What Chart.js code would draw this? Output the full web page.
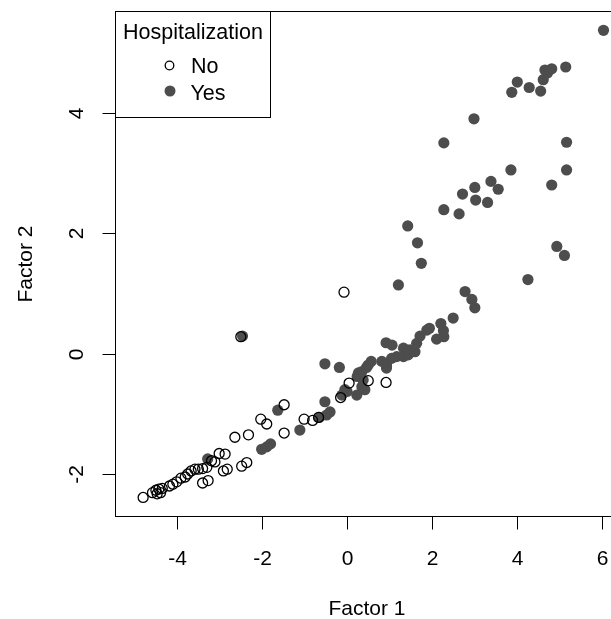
<!DOCTYPE html>
<html>
<head>
<meta charset="utf-8">
<script src="https://cdn.jsdelivr.net/npm/chart.js@4"></script>
<style>
  html, body { margin: 0; padding: 0; background: #fff; overflow: hidden; }
  #plot { display: block; }
</style>
</head>
<body>
<canvas id="plot" width="640" height="619"></canvas>
<script>
// values
const xTicks = [-4, -2, 0, 2, 4, 6];
const yTicks = [-2, 0, 2, 4];
const groups = ["No", "Yes"];

const noFactor1 = [-4.80, -4.58, -4.50, -4.43, -4.39, -4.47, -4.35, -4.18, -4.10, -4.01, -3.91, -3.81, -3.75, -3.67,
  -3.58, -3.50, -3.40, -3.30, -3.19, -3.11, -3.01, -2.87, -3.40, -3.27, -2.91, -2.82, -2.64, -2.32, -2.48,
  -2.36, -2.03, -1.89, -2.50, -0.07, 0.05, 0.50, 0.92, -0.15, -1.48, -1.01, -0.81, -0.67, -1.48];
const noFactor2 = [-2.39, -2.31, -2.27, -2.25, -2.31, -2.33, -2.24, -2.20, -2.17, -2.13, -2.07, -2.05, -2.00, -1.95,
  -1.92, -1.92, -1.91, -1.89, -1.78, -1.80, -1.66, -1.67, -2.15, -2.11, -1.95, -1.92, -1.39, -1.35, -1.87,
  -1.81, -1.09, -1.17, 0.28, 1.02, -0.49, -0.45, -0.48, -0.73, -0.85, -1.09, -1.11, -1.06, -1.32];

const yesFactor1 = [-3.28, -2.01, -1.89, -1.80, -1.63, -2.46, -1.11, -0.65, -0.48, -0.40, -0.52, -0.52, -0.18,
  -0.05, -0.12, 0.00, 0.23, 0.35, 0.38, 0.24, 0.27, 0.35, 0.46, 0.57, 0.50, 0.82, 0.93, 1.05, 1.17, 0.92,
  1.06, 0.93, 1.33, 1.33, 1.44, 1.48, 1.60, 1.64, 1.72, 1.88, 1.94, 2.11, 2.21, 2.27, 2.28, 2.50, 2.78,
  2.94, 3.01, 1.21, 1.75, 1.66, 1.43, 4.26, 4.94, 5.12, 2.28, 2.64, 3.03, 3.31, 2.72, 3.01, 3.39, 3.56,
  3.86, 4.82, 5.17, 5.17, 2.28, 2.99, 3.88, 4.01, 4.29, 4.56, 4.62, 4.72, 4.66, 4.82, 5.15, 6.04, 0.42];
const yesFactor2 = [-1.75, -1.59, -1.55, -1.50, -0.94, 0.29, -1.27, -1.06, -1.02, -0.97, -0.80, -0.17, -0.23,
  -0.60, -0.69, -0.63, -0.69, -0.55, -0.44, -0.38, -0.32, -0.30, -0.23, -0.13, -0.19, -0.13, -0.19, -0.08,
  -0.05, 0.18, 0.14, -0.24, -0.05, 0.09, -0.02, 0.06, 0.03, 0.17, 0.29, 0.39, 0.42, 0.24, 0.50, 0.38, 0.28,
  0.59, 1.03, 0.90, 0.76, 1.14, 1.50, 1.84, 2.12, 1.23, 1.78, 1.63, 2.39, 2.32, 2.55, 2.51, 2.65, 2.76,
  2.86, 2.73, 3.05, 2.80, 3.05, 3.51, 3.50, 3.90, 4.34, 4.51, 4.42, 4.36, 4.55, 4.66, 4.71, 4.73, 4.76,
  5.37, -0.60];

const toPoints = (xs, ys) => xs.map((x, i) => ({ x: x, y: ys[i] }));

const FONT = '"Liberation Sans", Arial, Helvetica, sans-serif';
const GREY = '#4d4d4d';

// box, ticks, labels and legend drawn the way base R does it
const rAxes = {
  id: 'rAxes',
  afterDraw(chart) {
    const ctx = chart.ctx;
    const { left, top, right, bottom } = chart.chartArea;
    const xs = chart.scales.x, ys = chart.scales.y;
    ctx.save();
    ctx.strokeStyle = '#000';
    ctx.fillStyle = '#000';
    ctx.lineWidth = 1;

    const L = Math.round(left) - 0.5, T = Math.round(top) - 0.5, B = Math.round(bottom) + 0.5;
    ctx.strokeRect(L, T, Math.round(right) - L, B - T);

    ctx.font = '21px ' + FONT;
    ctx.textAlign = 'center';
    ctx.textBaseline = 'alphabetic';
    xTicks.forEach(v => {
      const px = Math.round(xs.getPixelForValue(v)) + 0.5;
      ctx.beginPath();
      ctx.moveTo(px, B);
      ctx.lineTo(px, B + 13);
      ctx.stroke();
      ctx.fillText(String(v), px, 565);
    });
    yTicks.forEach(v => {
      const py = Math.round(ys.getPixelForValue(v)) + 0.5;
      ctx.beginPath();
      ctx.moveTo(L, py);
      ctx.lineTo(L - 13, py);
      ctx.stroke();
      ctx.save();
      ctx.translate(83, py);
      ctx.rotate(-Math.PI / 2);
      ctx.fillText(String(v), 0, 0);
      ctx.restore();
    });

    ctx.fillText('Factor 1', (left + right) / 2, 615);
    ctx.save();
    ctx.translate(31.5, (top + bottom) / 2);
    ctx.rotate(-Math.PI / 2);
    ctx.fillText('Factor 2', 0, 0);
    ctx.restore();

    // legend
    ctx.fillStyle = '#fff';
    ctx.fillRect(L, T, 270.5 - L, 117.5 - T);
    ctx.strokeRect(L, T, 270.5 - L, 117.5 - T);
    ctx.fillStyle = '#000';
    ctx.font = '21.5px ' + FONT;
    ctx.fillText('Hospitalization', (L + 270.5) / 2, 38.7);
    ctx.textAlign = 'left';
    ctx.fillText(groups[0], 191, 73);
    ctx.fillText(groups[1], 190.5, 99.7);
    ctx.beginPath();
    ctx.lineWidth = 1.3;
    ctx.arc(169.5, 65.5, 4.3, 0, Math.PI * 2);
    ctx.stroke();
    ctx.beginPath();
    ctx.fillStyle = GREY;
    ctx.arc(170, 91, 5.5, 0, Math.PI * 2);
    ctx.fill();
    ctx.restore();
  }
};

new Chart(document.getElementById('plot'), {
  type: 'scatter',
  data: {
    datasets: [
      {
        label: groups[0],
        data: toPoints(noFactor1, noFactor2),
        pointRadius: 5,
        pointBorderWidth: 1.3,
        borderColor: '#000',
        backgroundColor: 'rgba(0,0,0,0)',
        pointHoverRadius: 5
      },
      {
        label: groups[1],
        data: toPoints(yesFactor1, yesFactor2),
        pointRadius: 5.6,
        pointBorderWidth: 0,
        borderColor: GREY,
        backgroundColor: GREY,
        pointHoverRadius: 5.6
      }
    ]
  },
  options: {
    responsive: false,
    animation: false,
    devicePixelRatio: 1,
    layout: { padding: { left: 116, top: 12, right: 22, bottom: 103 } },
    plugins: { legend: { display: false }, tooltip: { enabled: false } },
    scales: {
      x: { type: 'linear', min: -5.439, max: 6.381, display: false },
      y: { type: 'linear', min: -2.698, max: 5.674, display: false }
    }
  },
  plugins: [rAxes]
});
</script>
</body>
</html>
